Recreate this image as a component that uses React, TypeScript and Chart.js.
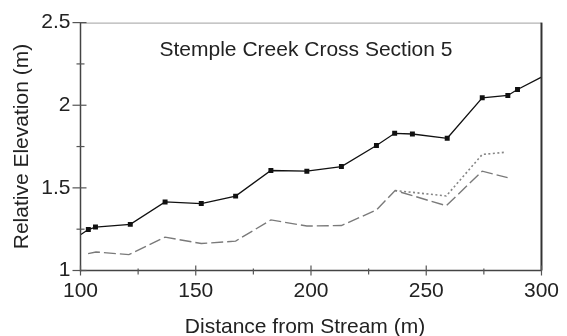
import React, { useEffect, useRef } from 'react';
import { Chart, registerables } from 'chart.js';

Chart.register(...registerables);

const chartTitle = 'Stemple Creek Cross Section 5';
const xAxisTitle = 'Distance from Stream (m)';
const yAxisTitle = 'Relative Elevation (m)';

const xTickValues = [100, 150, 200, 250, 300];
const xTickLabels = ['100', '150', '200', '250', '300'];
const xMinorTicks = [125, 175, 225, 275];
const yTickValues = [1, 1.5, 2, 2.5];
const yTickLabels = ['1', '1.5', '2', '2.5'];
const yMinorTicks = [1.25, 1.75, 2.25];

// Solid line with square markers
const surfaceX = [100, 103.4, 106.5, 121.6, 136.7, 152.4, 167.3, 182.6, 198.2, 213.2, 228.4, 236.3, 244.0, 259.1, 274.3, 285.4, 289.6, 300];
const surfaceY = [1.216, 1.248, 1.263, 1.279, 1.415, 1.405, 1.45, 1.605, 1.601, 1.629, 1.756, 1.83, 1.826, 1.8, 2.045, 2.059, 2.095, 2.17];

// Long-dashed grey line
const dashedX = [103.3, 106.7, 121.0, 136.7, 152.4, 167.3, 182.6, 198.2, 213.2, 228.4, 236.5, 258.7, 274.3, 285.3];
const dashedY = [1.102, 1.112, 1.096, 1.202, 1.163, 1.178, 1.306, 1.269, 1.272, 1.366, 1.484, 1.392, 1.601, 1.562];

// Dotted grey line
const dottedX = [236.5, 258.7, 274.3, 284.7];
const dottedY = [1.484, 1.451, 1.702, 1.716];

const FONT = '"Liberation Sans", Arial, Helvetica, sans-serif';

const toPoints = (xs: number[], ys: number[]) => xs.map((x, i) => ({ x, y: ys[i] }));

const framePlugin = {
  id: 'frame',
  afterDatasetsDraw(chart: any) {
    const { ctx, chartArea: a, scales } = chart;
    const x = scales.x;
    const y = scales.y;
    ctx.save();
    const seg = (x1: number, y1: number, x2: number, y2: number) => {
      ctx.beginPath();
      ctx.moveTo(x1, y1);
      ctx.lineTo(x2, y2);
      ctx.stroke();
    };
    // top border
    ctx.strokeStyle = '#a0a0a0';
    ctx.lineWidth = 1;
    seg(a.left, a.top + 0.5, a.right, a.top + 0.5);
    // right border
    ctx.strokeStyle = '#333';
    ctx.lineWidth = 2;
    seg(a.right, a.top, a.right, a.bottom);
    // left and bottom axes
    ctx.strokeStyle = '#444';
    ctx.lineWidth = 1.5;
    seg(a.left, a.top, a.left, a.bottom + 1);
    seg(a.left, a.bottom, a.right, a.bottom);
    // ticks
    ctx.lineWidth = 1.2;
    ctx.strokeStyle = '#555';
    xTickValues.forEach((v) => {
      const px = x.getPixelForValue(v);
      seg(px, a.bottom - 5, px, a.bottom + 5);
    });
    xMinorTicks.forEach((v) => {
      const px = x.getPixelForValue(v);
      seg(px, a.bottom - 2, px, a.bottom + 4);
    });
    yTickValues.forEach((v) => {
      const py = y.getPixelForValue(v);
      seg(a.left - 8, py, a.left + 6, py);
    });
    yMinorTicks.forEach((v) => {
      const py = y.getPixelForValue(v);
      seg(a.left - 4, py, a.left + 4, py);
    });
    // title inside plot
    ctx.font = `21px ${FONT}`;
    ctx.fillStyle = '#222';
    ctx.textAlign = 'center';
    ctx.textBaseline = 'alphabetic';
    ctx.fillText(chartTitle, (a.left + a.right) / 2 - 5, a.top + 33);
    // x-axis title
    ctx.fillText(xAxisTitle, (a.left + a.right) / 2 - 6, 333);
    ctx.restore();
  },
};

export default function App() {
  const canvasRef = useRef<HTMLCanvasElement | null>(null);

  useEffect(() => {
    const canvas = canvasRef.current;
    if (!canvas) return;
    const chart = new Chart(canvas, {
      type: 'line',
      data: {
        datasets: [
          {
            label: 'Surface',
            data: toPoints(surfaceX, surfaceY),
            borderColor: '#111',
            backgroundColor: '#111',
            borderWidth: 1.3,
            pointStyle: 'rect',
            pointRadius: (c: any) => (c.dataIndex === 0 || c.dataIndex === surfaceX.length - 1 ? 0 : 3.5),
            pointBorderWidth: 0,
            tension: 0,
          },
          {
            label: 'Dashed',
            data: toPoints(dashedX, dashedY),
            borderColor: '#7a7a7a',
            borderWidth: 1.4,
            borderDash: [12, 4],
            pointRadius: 0,
            tension: 0,
          },
          {
            label: 'Dotted',
            data: toPoints(dottedX, dottedY),
            borderColor: '#858585',
            borderWidth: 1.6,
            borderDash: [2, 2.5],
            pointRadius: 0,
            tension: 0,
          },
        ],
      },
      options: {
        animation: false,
        responsive: false,
        maintainAspectRatio: false,
        layout: { padding: { top: 19.5, right: 25, left: 0, bottom: 0 } },
        plugins: {
          legend: { display: false },
          tooltip: { enabled: false },
          title: { display: false },
        },
        scales: {
          x: {
            type: 'linear',
            min: 100,
            max: 300,
            grid: { display: false, drawTicks: false },
            border: { display: false },
            afterBuildTicks: (s: any) => {
              s.ticks = xTickValues.map((v) => ({ value: v }));
            },
            afterFit: (s: any) => {
              s.height = 65.5;
            },
            ticks: {
              autoSkip: false,
              maxRotation: 0,
              padding: 8,
              color: '#222',
              font: { family: FONT, size: 21 },
              callback: (_v: any, i: number) => xTickLabels[i],
            },
            title: { display: false },
          },
          y: {
            type: 'linear',
            min: 1,
            max: 2.5,
            grid: { display: false, drawTicks: false },
            border: { display: false },
            afterBuildTicks: (s: any) => {
              s.ticks = yTickValues.map((v) => ({ value: v }));
            },
            afterFit: (s: any) => {
              s.width = 80.5;
            },
            ticks: {
              autoSkip: false,
              padding: 10,
              color: '#222',
              font: { family: FONT, size: 21 },
              callback: (_v: any, i: number) => yTickLabels[i],
            },
            title: {
              display: true,
              text: yAxisTitle,
              color: '#222',
              font: { family: FONT, size: 21, lineHeight: 1 },
              padding: { top: 12, bottom: 0 },
            },
          },
        },
      },
      plugins: [framePlugin],
    } as any);
    return () => chart.destroy();
  }, []);

  return (
    <div style={{ position: 'fixed', left: 0, top: 0, width: 567, height: 336, background: '#fff' }}>
      <canvas ref={canvasRef} width={567} height={336} style={{ display: 'block' }} />
    </div>
  );
}
